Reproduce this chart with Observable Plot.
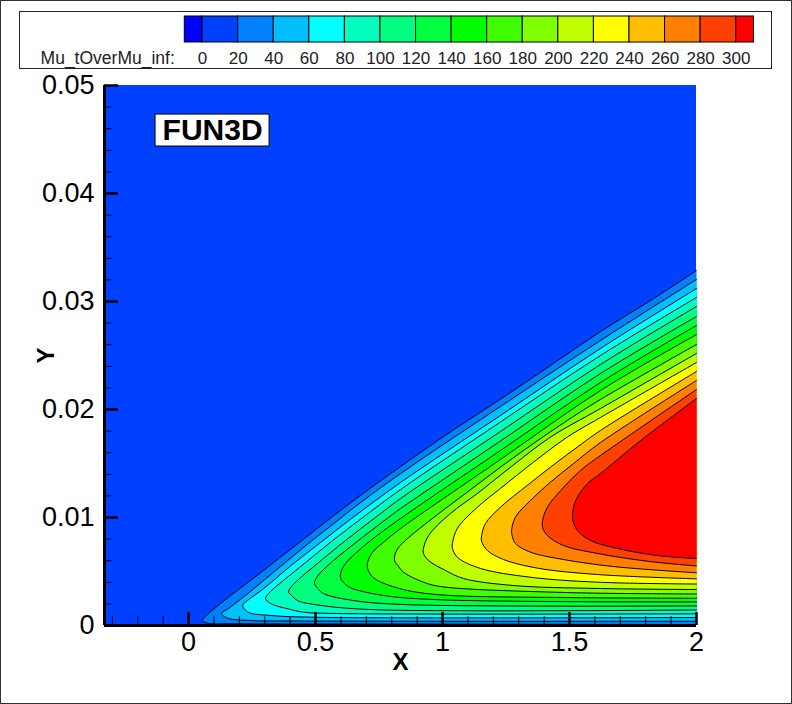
<!DOCTYPE html>
<html>
<head>
<meta charset="utf-8">
<script src="https://cdn.jsdelivr.net/npm/d3@7"></script>
<script src="https://cdn.jsdelivr.net/npm/@observablehq/plot@0.6"></script>
<style>
html,body{margin:0;padding:0;background:#fff;overflow:hidden}
#page{position:relative;width:792px;height:704px;overflow:hidden}
#page svg{position:absolute;left:0;top:0}
#border{position:absolute;left:0;top:0;width:790px;height:702px;border:1px solid #333;pointer-events:none}
</style>
</head>
<body>
<div id="page"><div id="chart"></div><div id="border"></div></div>
<script>
const legendTitle = "Mu_tOverMu_inf:";
const thresholds = [0,20,40,60,80,100,120,140,160,180,200,220,240,260,280,300];
const bandColors = ["#0000ff","#0040ff","#0080ff","#00bfff","#00ffff","#00ffbf","#00ff80","#00ff40","#00ff00","#40ff00","#80ff00","#bfff00","#ffff00","#ffbf00","#ff8000","#ff4000","#ff0000"];
const legendLow = [-10,0,20,40,60,80,100,120,140,160,180,200,220,240,260,280,300];
const legendHigh = [0,20,40,60,80,100,120,140,160,180,200,220,240,260,280,300,310];

const xDomain = [-0.331,2];
const yDomain = [0,0.05];
const xMajor = [0,0.5,1,1.5,2];
const xMinor = [-0.3,-0.2,-0.1,0.1,0.2,0.3,0.4,0.6,0.7,0.8,0.9,1.1,1.2,1.3,1.4,1.6,1.7,1.8,1.9];
const yMajor = [0,0.01,0.02,0.03,0.04,0.05];
const yMinor = [0.002,0.004,0.006,0.008,0.012,0.014,0.016,0.018,0.022,0.024,0.026,0.028,0.032,0.034,0.036,0.038,0.042,0.044,0.046,0.048];

const tagText = "FUN3D";
const tagX = [-0.13,0.319];
const tagY = [0.04435,0.04731];

const levels = [20,40,60,80,100,120,140,160,180,200,220,240,260,280,300];
const c20x = [2,1.819,1.622,1.425,1.220,1.031,.835,.677,.547,.421,.295,.146,.075,.055,.075,.165,.835,2];
const c20y = [.03287,.03009,.02722,.02407,.02083,.01792,.01472,.01204,.00972,.00741,.00509,.00241,.00102,.00046,.00021,.00016,.00013,.00009];
const c40x = [2,1.622,1.228,.835,.657,.587,.472,.362,.224,.157,.130,.154,.244,.402,2];
const c40y = [.03204,.02639,.02028,.01407,.01102,.00972,.00759,.00546,.00278,.00157,.00111,.00068,.00046,.00042,.00039];
const c60x = [2,1.622,1.228,.835,.642,.520,.409,.291,.232,.213,.236,.323,.508,2];
const c60y = [.03120,.02565,.01944,.01324,.00991,.00769,.00565,.00333,.00231,.00185,.00123,.00093,.00076,.00074];
const c80x = [2,1.622,1.228,.835,.681,.563,.461,.374,.323,.303,.323,.402,.453,.587,2];
const c80y = [.03037,.02500,.01884,.01259,.00991,.00778,.00583,.00417,.00315,.00250,.00204,.00148,.00123,.00111,.00108];
const c100x = [2,1.622,1.228,.835,.736,.618,.512,.433,.402,.394,.406,.429,.508,.713,2];
const c100y = [.02954,.02417,.01796,.01176,.01000,.00787,.00583,.00426,.00352,.00308,.00278,.00231,.00190,.00148,.00144];
const c120x = [2,1.622,1.228,.835,.787,.669,.571,.520,.500,.496,.508,.531,.650,.846,2];
const c120y = [.02861,.02333,.01708,.01083,.01000,.00787,.00602,.00491,.00426,.00389,.00343,.00296,.00231,.00194,.00181];
const c140x = [2,1.622,1.228,.835,.717,.657,.618,.602,.598,.614,.638,.768,.992,2];
const c140y = [.02778,.02250,.01620,.00991,.00787,.00667,.00574,.00509,.00444,.00389,.00349,.00278,.00238,.00218];
const c160x = [2,1.622,1.228,.835,.776,.724,.705,.705,.720,.744,.846,.992,1.476,2];
const c160y = [.02694,.02176,.01537,.00898,.00787,.00676,.00583,.00528,.00463,.00417,.00333,.00284,.00259,.00252];
const c180x = [2,1.622,1.491,1.358,1.228,1.097,.965,.854,.819,.811,.827,.846,.925,.992,1.476,2];
const c180y = [.02602,.02093,.01898,.01685,.01466,.01234,.01000,.00787,.00694,.00602,.00546,.00494,.00401,.00361,.00306,.00292];
const c200x = [2,1.622,1.425,1.268,1.137,1.031,.945,.925,.925,.945,1.012,1.083,1.280,1.610,2];
const c200y = [.02519,.02009,.01744,.01466,.01222,.01037,.00833,.00713,.00667,.00602,.00509,.00435,.00370,.00343,.00333];
const c220x = [2,1.622,1.491,1.358,1.228,1.137,1.058,1.039,1.039,1.059,1.150,1.346,1.610,2];
const c220y = [.02435,.01926,.01744,.01512,.01269,.01095,.00898,.00759,.00713,.00630,.00528,.00447,.00401,.00384];
const c240x = [2,1.622,1.530,1.425,1.333,1.228,1.169,1.154,1.154,1.177,1.240,1.374,1.610,2];
const c240y = [.02352,.01806,.01651,.01466,.01296,.01095,.00944,.00833,.00778,.00694,.00611,.00531,.00472,.00432];
const c260x = [2,1.622,1.516,1.425,1.346,1.287,1.272,1.276,1.287,1.346,1.476,1.673,2];
const c260y = [.02269,.01694,.01500,.01327,.01157,.01003,.00880,.00815,.00759,.00679,.00611,.00546,.00488];
const c280x = [2,1.622,1.543,1.465,1.413,1.394,1.394,1.413,1.476,1.610,1.807,2];
const c280y = [.02185,.01574,.01435,.01250,.01095,.00972,.00907,.00833,.00741,.00667,.00595,.00551];
const c300x = [2,1.780,1.622,1.571,1.524,1.512,1.512,1.531,1.583,1.689,1.846,2];
const c300y = [.02102,.01713,.01407,.01315,.01157,.01037,.00981,.00880,.00787,.00713,.00648,.00620];

const contourX = [c20x,c40x,c60x,c80x,c100x,c120x,c140x,c160x,c180x,c200x,c220x,c240x,c260x,c280x,c300x];
const contourY = [c20y,c40y,c60y,c80y,c100y,c120y,c140y,c160y,c180y,c200y,c220y,c240y,c260y,c280y,c300y];
const rows = levels.flatMap((level,i)=>contourX[i].map((x,j)=>({level,x,y:contourY[i][j]})));

const font = "Liberation Sans, Arial, Helvetica, sans-serif";
const color = {type:"threshold",domain:thresholds,range:bandColors};

const legend = Plot.plot({
  width:792,height:75,marginTop:16,marginBottom:33,marginLeft:184.3,marginRight:38.5,
  style:{fontFamily:font,background:"transparent"},
  x:{domain:[legendLow[0],legendHigh[legendHigh.length-1]]},
  y:{domain:[0,1],axis:null},
  color,
  marks:[
    Plot.frame({stroke:"#222",strokeWidth:1,insetLeft:-165.3,insetRight:-17.5,insetTop:-5,insetBottom:-26}),
    Plot.rect(legendLow,{x1:d=>d,x2:(d,i)=>legendHigh[i],y1:()=>0,y2:()=>1,fill:d=>d,stroke:"#000",strokeWidth:1}),
    Plot.axisX(thresholds,{anchor:"bottom",label:null,tickSize:0,tickPadding:9,fontSize:17,tickFormat:d=>String(d),fill:"#222"}),
    Plot.text([legendTitle],{frameAnchor:"bottom-left",dx:-10,dy:16,textAnchor:"end",lineAnchor:"middle",fontSize:17.5,fill:"#222"})
  ]
});

const main = Plot.plot({
  width:792,height:704,marginTop:85,marginBottom:79,marginLeft:104,marginRight:96,
  style:{fontFamily:font,background:"transparent"},
  x:{domain:xDomain},
  y:{domain:yDomain},
  color,
  marks:[
    Plot.rect([thresholds[0]],{x1:()=>xDomain[0],x2:()=>xDomain[1],y1:()=>yDomain[0],y2:()=>yDomain[1],fill:d=>d}),
    Plot.line(rows,{x:"x",y:"y",z:"level",fill:"level",stroke:"#000",strokeWidth:1,curve:"catmull-rom"}),
    Plot.rect([tagText],{x1:()=>tagX[0],x2:()=>tagX[1],y1:()=>tagY[0],y2:()=>tagY[1],fill:"#fff",stroke:"#000",strokeWidth:1}),
    Plot.text([tagText],{x:()=>(tagX[0]+tagX[1])/2,y:()=>(tagY[0]+tagY[1])/2,fontSize:30,fontWeight:"bold",fill:"#000"}),
    Plot.ruleX(xMinor,{y1:()=>0,y2:()=>0.0008,stroke:"#000",strokeWidth:1}),
    Plot.ruleX(xMajor,{y1:()=>0,y2:()=>0.0012,stroke:"#000",strokeWidth:2.5}),
    Plot.ruleY(yMinor,{x1:()=>xDomain[0],x2:()=>xDomain[0]+0.03,stroke:"#000",strokeWidth:1}),
    Plot.ruleY(yMajor,{x1:()=>xDomain[0],x2:()=>xDomain[0]+0.055,stroke:"#000",strokeWidth:2.5}),
    Plot.ruleX([xDomain[0]],{stroke:"#000",strokeWidth:3}),
    Plot.ruleY([yDomain[0]],{stroke:"#000",strokeWidth:3}),
    Plot.axisX(xMajor,{anchor:"bottom",label:null,tickSize:0,tickPadding:6,fontSize:27,tickFormat:d=>String(d),fill:"#000"}),
    Plot.axisY(yMajor,{anchor:"left",label:null,tickSize:0,tickPadding:10,fontSize:27,tickFormat:d=>String(d),fill:"#000"}),
    Plot.text(["X"],{frameAnchor:"bottom",dy:37,lineAnchor:"middle",fontSize:24,fontWeight:"bold",fill:"#000"}),
    Plot.text(["Y"],{frameAnchor:"left",dx:-58,rotate:-90,textAnchor:"middle",lineAnchor:"middle",fontSize:24,fontWeight:"bold",fill:"#000"})
  ]
});

const chart = document.getElementById("chart");
chart.appendChild(main);
chart.appendChild(legend);
</script>
</body>
</html>
